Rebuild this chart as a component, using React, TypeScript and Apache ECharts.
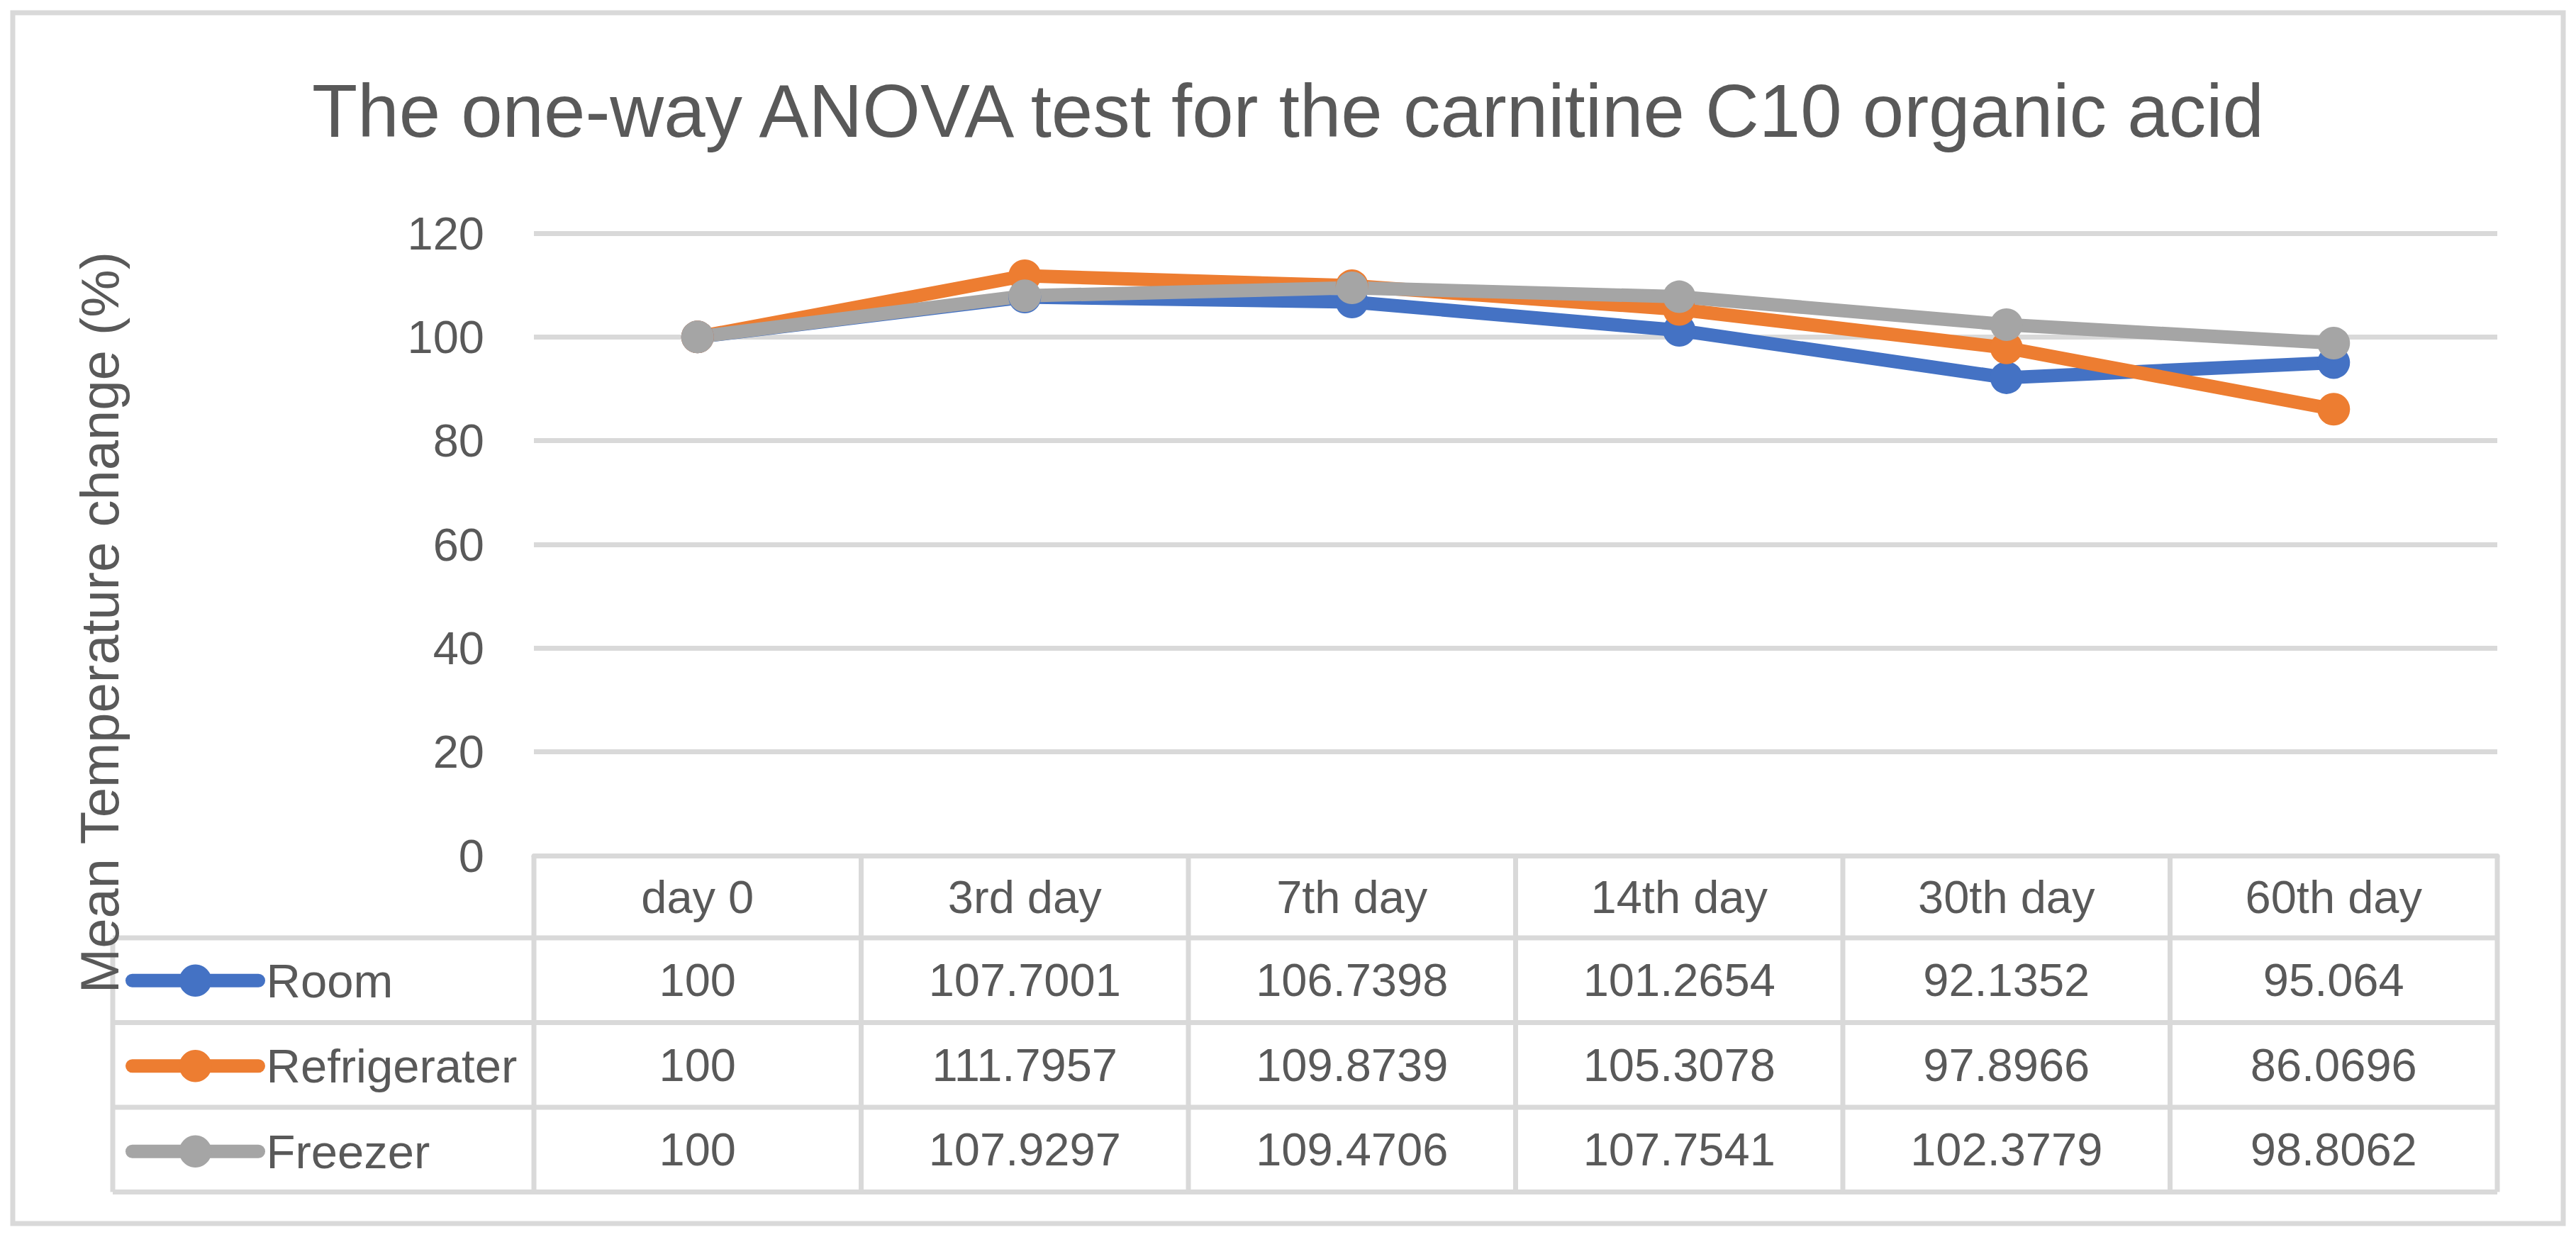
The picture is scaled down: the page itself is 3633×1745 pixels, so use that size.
import React, { useEffect, useRef } from "react";
import * as echarts from "echarts";

// ---- data ----
const categories = ["day 0", "3rd day", "7th day", "14th day", "30th day", "60th day"];
const seriesNames = ["Room", "Refrigerater", "Freezer"];
const room = [100, 107.7001, 106.7398, 101.2654, 92.1352, 95.064];
const refrigerater = [100, 111.7957, 109.8739, 105.3078, 97.8966, 86.0696];
const freezer = [100, 107.9297, 109.4706, 107.7541, 102.3779, 98.8062];
const yMin = 0;
const yMax = 120;
const yInterval = 20;
const titleText = "The one-way ANOVA test for the carnitine C10 organic acid";
const yAxisTitle = "Mean Temperature change (%)";

// ---- layout / style ----
const W = 3633;
const H = 1745;
const FONT = '"Liberation Sans", Arial, sans-serif';
const TEXT = "#595959";
const GRIDC = "#D9D9D9";
const colors = ["#4472C4", "#ED7D31", "#A5A5A5"];
const GRID_LEFT = 753;
const GRID_RIGHT_X = 3522;
const GRID_TOP = 329;
const GRID_BOTTOM_Y = 1207;
const HEADER_H = 116;
const ROW_H = 119.5;
const LEGEND_LEFT_X = 159;
const LEGEND_TEXT_SIZE = 67;

export default function App() {
  const ref = useRef<HTMLDivElement>(null);
  useEffect(() => {
    if (!ref.current) return;
    const chart = echarts.init(ref.current, null, { renderer: "svg" });
    const seriesData = [room, refrigerater, freezer];
    const gridW = GRID_RIGHT_X - GRID_LEFT;
    const band = gridW / categories.length;
    const tableBottom = GRID_BOTTOM_Y + HEADER_H + ROW_H * seriesNames.length;

    const graphics: any[] = [];
    // outer border
    graphics.push({
      type: "rect",
      shape: { x: 18, y: 18, width: W - 36, height: H - 37 },
      style: { fill: "none", stroke: GRIDC, lineWidth: 7 },
      silent: true,
    });
    // horizontal table lines
    for (let r = 0; r <= seriesNames.length; r++) {
      const y = GRID_BOTTOM_Y + HEADER_H + r * ROW_H;
      graphics.push({
        type: "line",
        shape: { x1: LEGEND_LEFT_X, y1: y, x2: GRID_RIGHT_X, y2: y },
        style: { stroke: GRIDC, lineWidth: 7 },
        silent: true,
      });
    }
    // legend column left line
    graphics.push({
      type: "line",
      shape: { x1: LEGEND_LEFT_X, y1: GRID_BOTTOM_Y + HEADER_H, x2: LEGEND_LEFT_X, y2: tableBottom },
      style: { stroke: GRIDC, lineWidth: 7 },
      silent: true,
    });
    // vertical table lines
    for (let i = 0; i <= categories.length; i++) {
      const x = GRID_LEFT + i * band;
      graphics.push({
        type: "line",
        shape: { x1: x, y1: GRID_BOTTOM_Y, x2: x, y2: tableBottom },
        style: { stroke: GRIDC, lineWidth: 7 },
        silent: true,
      });
    }
    // table values
    seriesData.forEach((arr, r) => {
      const cy = GRID_BOTTOM_Y + HEADER_H + r * ROW_H + ROW_H / 2;
      arr.forEach((v, i) => {
        graphics.push({
          type: "text",
          x: GRID_LEFT + i * band + band / 2,
          y: cy,
          silent: true,
          style: {
            text: String(v),
            fill: TEXT,
            fontSize: 65,
            fontFamily: FONT,
            align: "center",
            verticalAlign: "middle",
          },
        });
      });
    });

    const legendItemH = 57;
    const legendBoxH = Math.max(legendItemH, LEGEND_TEXT_SIZE - 1);

    chart.setOption({
      animation: false,
      backgroundColor: "#ffffff",
      title: {
        text: titleText,
        left: "center",
        top: 104,
        padding: 0,
        textStyle: { fontSize: 105, fontWeight: "normal", color: TEXT, fontFamily: FONT },
      },
      legend: {
        orient: "vertical",
        left: 177,
        top: GRID_BOTTOM_Y + HEADER_H + ROW_H / 2 - legendBoxH / 2,
        padding: 0,
        itemWidth: 178,
        itemHeight: legendItemH,
        itemGap: ROW_H - legendBoxH,
        data: seriesNames,
        lineStyle: { width: 19, cap: "round" },
        textStyle: {
          fontSize: LEGEND_TEXT_SIZE,
          color: TEXT,
          fontFamily: FONT,
          padding: [0, 0, 0, 6],
        },
      },
      grid: {
        left: GRID_LEFT,
        right: W - GRID_RIGHT_X,
        top: GRID_TOP,
        bottom: H - GRID_BOTTOM_Y,
        containLabel: false,
      },
      xAxis: {
        type: "category",
        data: categories,
        boundaryGap: true,
        axisTick: { show: false },
        axisLine: { show: true, lineStyle: { color: GRIDC, width: 7 } },
        axisLabel: {
          fontSize: 65,
          color: TEXT,
          fontFamily: FONT,
          margin: HEADER_H / 2,
          verticalAlign: "middle",
          interval: 0,
        },
      },
      yAxis: {
        type: "value",
        min: yMin,
        max: yMax,
        interval: yInterval,
        name: yAxisTitle,
        nameLocation: "middle",
        nameGap: GRID_LEFT - 178,
        nameTextStyle: {
          fontSize: 76,
          color: TEXT,
          fontFamily: FONT,
          padding: [0, 220, 0, 0],
        },
        axisLine: { show: false },
        axisTick: { show: false },
        axisLabel: { fontSize: 65, color: TEXT, fontFamily: FONT, margin: 70 },
        splitLine: { lineStyle: { color: GRIDC, width: 7 } },
      },
      series: seriesNames.map((name, k) => ({
        name,
        type: "line",
        data: seriesData[k],
        symbol: "circle",
        symbolSize: 46,
        lineStyle: { width: 19, color: colors[k], cap: "round", join: "round" },
        itemStyle: { color: colors[k] },
      })),
      graphic: graphics,
    });
    return () => chart.dispose();
  }, []);
  return (
    <div
      ref={ref}
      style={{ position: "absolute", left: 0, top: 0, width: W, height: H, background: "#fff" }}
    />
  );
}
